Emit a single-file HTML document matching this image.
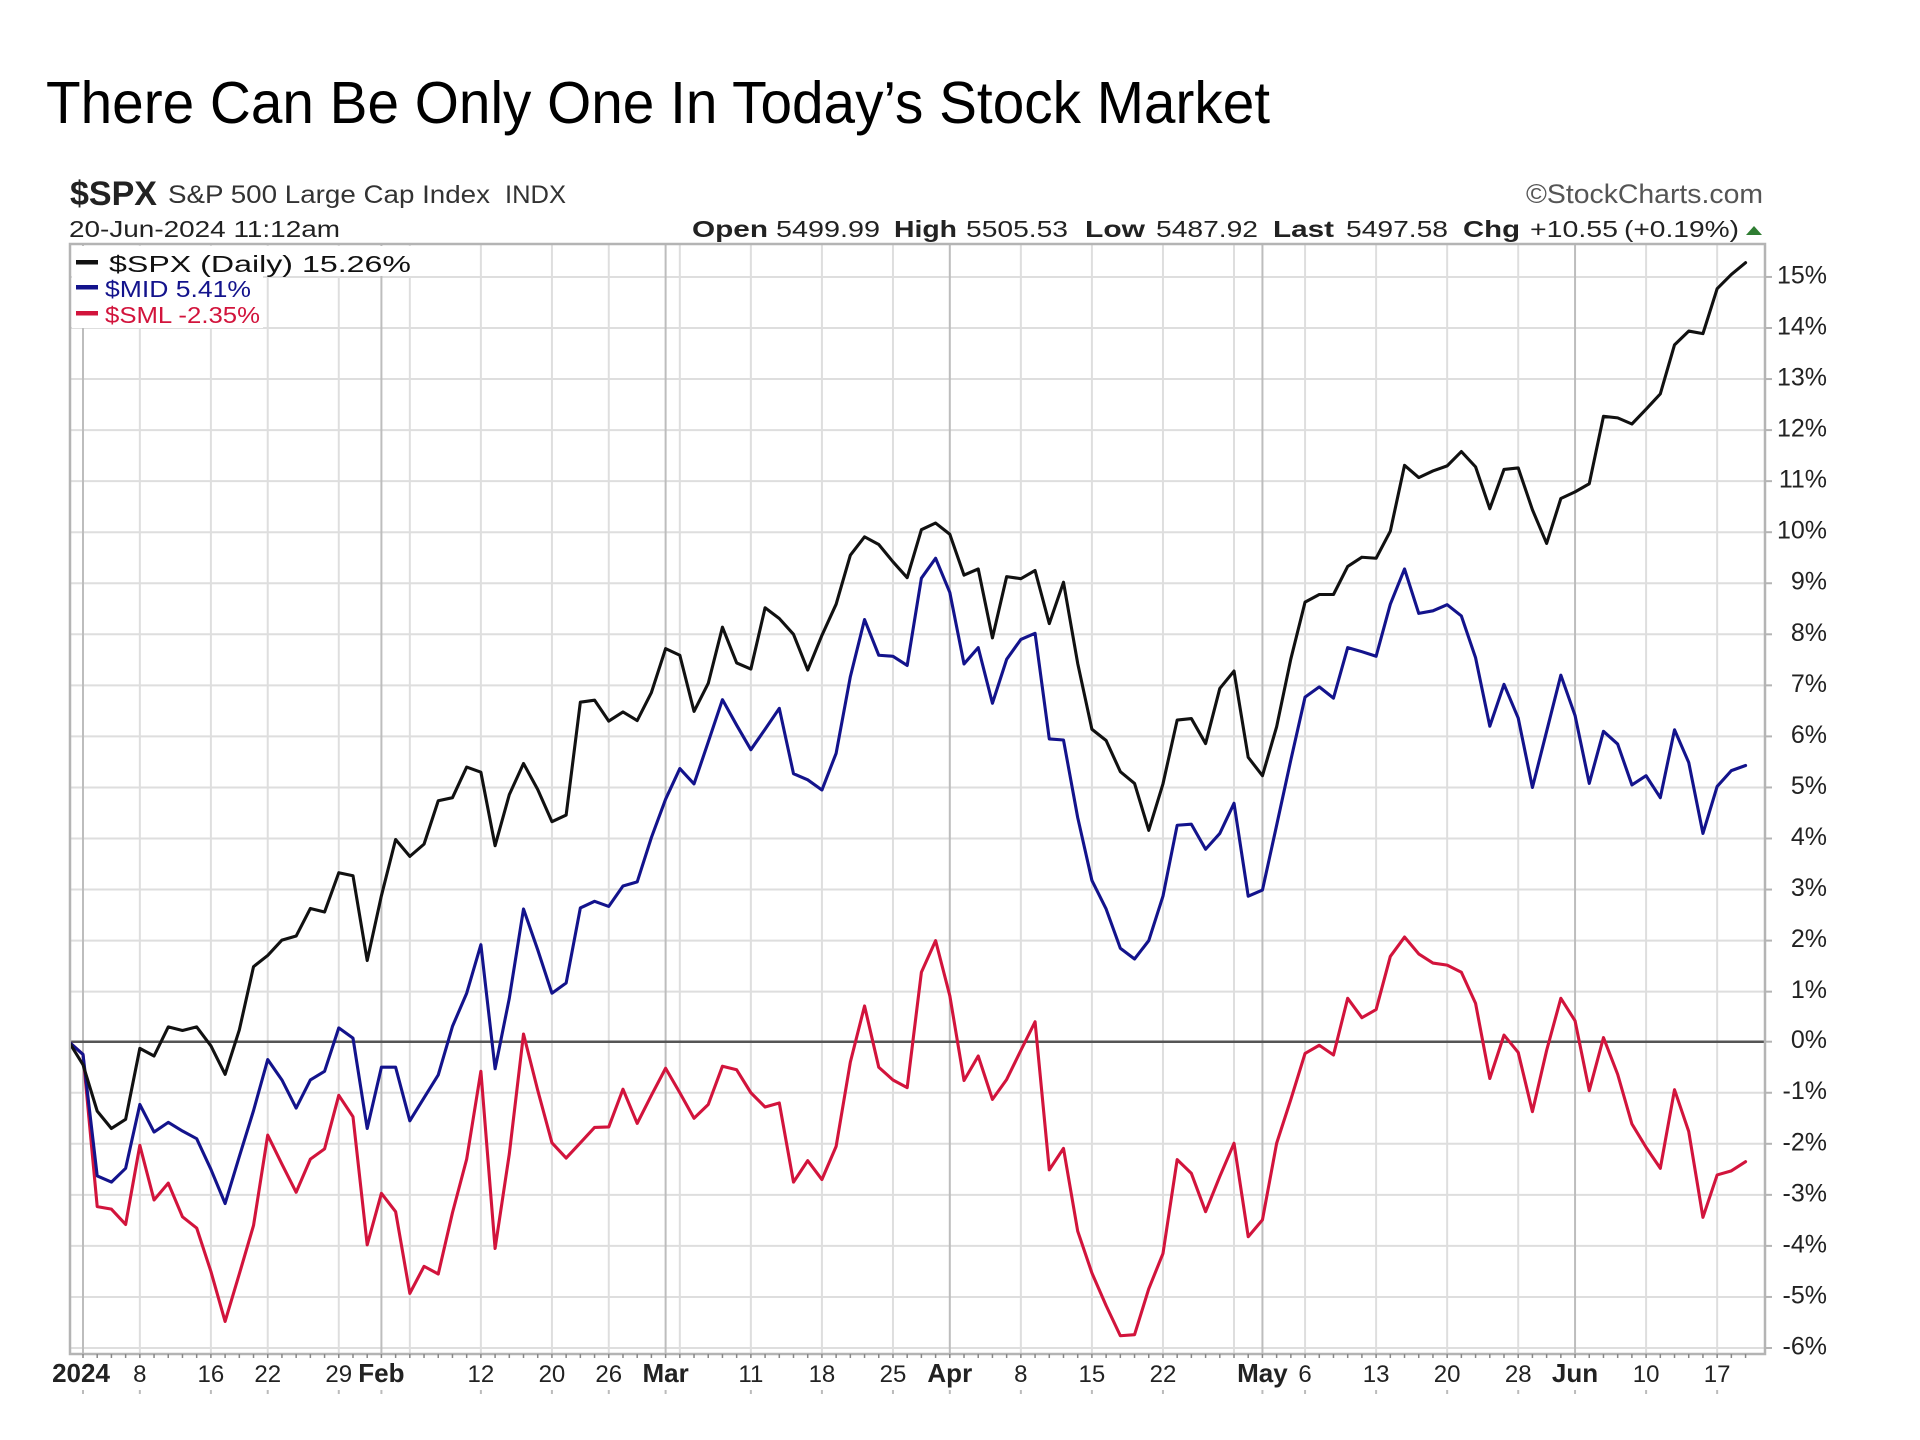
<!DOCTYPE html>
<html>
<head>
<meta charset="utf-8">
<style>
  html, body { margin: 0; padding: 0; background: #ffffff; }
  body { width: 1920px; height: 1440px; overflow: hidden; }
  svg { display: block; }
  text { font-family: "Liberation Sans", Arial, sans-serif; }
</style>
</head>
<body>
<svg width="1920" height="1440" viewBox="0 0 1920 1440" xmlns="http://www.w3.org/2000/svg">
  <rect x="0" y="0" width="1920" height="1440" fill="#ffffff"/>

  <!-- Title -->
  <text x="46" y="123" font-size="59" fill="#000" textLength="1224" lengthAdjust="spacingAndGlyphs">There Can Be Only One In Today’s Stock Market</text>

  <!-- Chart header -->
  <text x="70" y="205" font-size="34" font-weight="bold" fill="#222" textLength="87" lengthAdjust="spacingAndGlyphs">$SPX</text>
  <text x="168" y="203" font-size="25" fill="#333" textLength="322" lengthAdjust="spacingAndGlyphs">S&amp;P 500 Large Cap Index</text>
  <text x="505" y="203" font-size="25" fill="#333" textLength="61" lengthAdjust="spacingAndGlyphs">INDX</text>
  <text x="69" y="237" font-size="23" fill="#222" textLength="271" lengthAdjust="spacingAndGlyphs">20-Jun-2024 11:12am</text>

  <text x="1526" y="203" font-size="27" fill="#555" textLength="237" lengthAdjust="spacingAndGlyphs">©StockCharts.com</text>

  <!-- OHLC line -->
  <g font-size="23" fill="#222">
    <text x="692" y="237" font-weight="bold" textLength="76" lengthAdjust="spacingAndGlyphs">Open</text>
    <text x="776" y="237" textLength="104" lengthAdjust="spacingAndGlyphs">5499.99</text>
    <text x="894" y="237" font-weight="bold" textLength="63" lengthAdjust="spacingAndGlyphs">High</text>
    <text x="966" y="237" textLength="102" lengthAdjust="spacingAndGlyphs">5505.53</text>
    <text x="1085" y="237" font-weight="bold" textLength="60" lengthAdjust="spacingAndGlyphs">Low</text>
    <text x="1156" y="237" textLength="102" lengthAdjust="spacingAndGlyphs">5487.92</text>
    <text x="1273" y="237" font-weight="bold" textLength="61" lengthAdjust="spacingAndGlyphs">Last</text>
    <text x="1346" y="237" textLength="102" lengthAdjust="spacingAndGlyphs">5497.58</text>
    <text x="1463" y="237" font-weight="bold" textLength="57" lengthAdjust="spacingAndGlyphs">Chg</text>
    <text x="1530" y="237" textLength="88" lengthAdjust="spacingAndGlyphs">+10.55</text>
    <text x="1624" y="237" textLength="115" lengthAdjust="spacingAndGlyphs">(+0.19%)</text>
  </g>
  <polygon points="1746,235 1762,235 1754,226" fill="#2f7d32"/>

  <!-- Horizontal grid lines -->
  <g stroke="#dedede" stroke-width="2">
    <line x1="70" y1="276.95" x2="1765" y2="276.95"/>
    <line x1="70" y1="328.00" x2="1765" y2="328.00"/>
    <line x1="70" y1="379.05" x2="1765" y2="379.05"/>
    <line x1="70" y1="430.10" x2="1765" y2="430.10"/>
    <line x1="70" y1="481.15" x2="1765" y2="481.15"/>
    <line x1="70" y1="532.20" x2="1765" y2="532.20"/>
    <line x1="70" y1="583.25" x2="1765" y2="583.25"/>
    <line x1="70" y1="634.30" x2="1765" y2="634.30"/>
    <line x1="70" y1="685.35" x2="1765" y2="685.35"/>
    <line x1="70" y1="736.40" x2="1765" y2="736.40"/>
    <line x1="70" y1="787.45" x2="1765" y2="787.45"/>
    <line x1="70" y1="838.50" x2="1765" y2="838.50"/>
    <line x1="70" y1="889.55" x2="1765" y2="889.55"/>
    <line x1="70" y1="940.60" x2="1765" y2="940.60"/>
    <line x1="70" y1="991.65" x2="1765" y2="991.65"/>
    <line x1="70" y1="1092.75" x2="1765" y2="1092.75"/>
    <line x1="70" y1="1143.80" x2="1765" y2="1143.80"/>
    <line x1="70" y1="1194.85" x2="1765" y2="1194.85"/>
    <line x1="70" y1="1245.90" x2="1765" y2="1245.90"/>
    <line x1="70" y1="1296.95" x2="1765" y2="1296.95"/>
    <line x1="70" y1="1348.00" x2="1765" y2="1348.00"/>
  </g>

  <!-- Vertical grid lines (weekly) -->
  <g stroke="#dedede" stroke-width="2">
    <line x1="139.84" y1="245" x2="139.84" y2="1354"/>
    <line x1="210.89" y1="245" x2="210.89" y2="1354"/>
    <line x1="267.73" y1="245" x2="267.73" y2="1354"/>
    <line x1="338.78" y1="245" x2="338.78" y2="1354"/>
    <line x1="409.83" y1="245" x2="409.83" y2="1354"/>
    <line x1="480.88" y1="245" x2="480.88" y2="1354"/>
    <line x1="551.93" y1="245" x2="551.93" y2="1354"/>
    <line x1="608.77" y1="245" x2="608.77" y2="1354"/>
    <line x1="679.82" y1="245" x2="679.82" y2="1354"/>
    <line x1="750.87" y1="245" x2="750.87" y2="1354"/>
    <line x1="821.92" y1="245" x2="821.92" y2="1354"/>
    <line x1="892.97" y1="245" x2="892.97" y2="1354"/>
    <line x1="1020.86" y1="245" x2="1020.86" y2="1354"/>
    <line x1="1091.91" y1="245" x2="1091.91" y2="1354"/>
    <line x1="1162.96" y1="245" x2="1162.96" y2="1354"/>
    <line x1="1234.01" y1="245" x2="1234.01" y2="1354"/>
    <line x1="1305.06" y1="245" x2="1305.06" y2="1354"/>
    <line x1="1376.11" y1="245" x2="1376.11" y2="1354"/>
    <line x1="1447.16" y1="245" x2="1447.16" y2="1354"/>
    <line x1="1518.21" y1="245" x2="1518.21" y2="1354"/>
    <line x1="1646.10" y1="245" x2="1646.10" y2="1354"/>
    <line x1="1717.15" y1="245" x2="1717.15" y2="1354"/>
  </g>
  <!-- Month lines -->
  <g stroke="#bdbdbd" stroke-width="2">
    <line x1="83" y1="245" x2="83" y2="1354"/>
    <line x1="381.41" y1="245" x2="381.41" y2="1354"/>
    <line x1="665.61" y1="245" x2="665.61" y2="1354"/>
    <line x1="949.81" y1="245" x2="949.81" y2="1354"/>
    <line x1="1262.43" y1="245" x2="1262.43" y2="1354"/>
    <line x1="1575.05" y1="245" x2="1575.05" y2="1354"/>
  </g>

  <!-- Zero line -->
  <line x1="70" y1="1041.7" x2="1765" y2="1041.7" stroke="#555" stroke-width="2.5"/>

  <!-- Plot border -->
  <rect x="70" y="244" width="1695" height="1110" fill="none" stroke="#b4b4b4" stroke-width="2.5"/>

  <!-- Daily ticks at bottom -->
  <line x1="82.25" y1="1356" x2="1750" y2="1356" stroke="#888" stroke-width="4" stroke-dasharray="1.5 12.71"/>
  <!-- Right-side y ticks -->
  <g stroke="#b4b4b4" stroke-width="2">
    <line x1="1765" y1="276.95" x2="1772" y2="276.95"/>
    <line x1="1765" y1="328.00" x2="1772" y2="328.00"/>
    <line x1="1765" y1="379.05" x2="1772" y2="379.05"/>
    <line x1="1765" y1="430.10" x2="1772" y2="430.10"/>
    <line x1="1765" y1="481.15" x2="1772" y2="481.15"/>
    <line x1="1765" y1="532.20" x2="1772" y2="532.20"/>
    <line x1="1765" y1="583.25" x2="1772" y2="583.25"/>
    <line x1="1765" y1="634.30" x2="1772" y2="634.30"/>
    <line x1="1765" y1="685.35" x2="1772" y2="685.35"/>
    <line x1="1765" y1="736.40" x2="1772" y2="736.40"/>
    <line x1="1765" y1="787.45" x2="1772" y2="787.45"/>
    <line x1="1765" y1="838.50" x2="1772" y2="838.50"/>
    <line x1="1765" y1="889.55" x2="1772" y2="889.55"/>
    <line x1="1765" y1="940.60" x2="1772" y2="940.60"/>
    <line x1="1765" y1="991.65" x2="1772" y2="991.65"/>
    <line x1="1765" y1="1041.70" x2="1772" y2="1041.70"/>
    <line x1="1765" y1="1092.75" x2="1772" y2="1092.75"/>
    <line x1="1765" y1="1143.80" x2="1772" y2="1143.80"/>
    <line x1="1765" y1="1194.85" x2="1772" y2="1194.85"/>
    <line x1="1765" y1="1245.90" x2="1772" y2="1245.90"/>
    <line x1="1765" y1="1296.95" x2="1772" y2="1296.95"/>
    <line x1="1765" y1="1348.00" x2="1772" y2="1348.00"/>
  </g>

  <!-- Series -->
  <defs>
    <clipPath id="plotclip">
      <rect x="71" y="245" width="1693" height="1108"/>
    </clipPath>
  </defs>
  <g clip-path="url(#plotclip)">
    <g transform="matrix(14.21 0 0 -51.05 83 1041.7)" fill="none" stroke-linejoin="round" stroke-linecap="round">
      <polyline vector-effect="non-scaling-stroke" stroke="#d2143c" stroke-width="3.1" points="-1,0 0,-0.25 1,-3.23 2,-3.28 3,-3.58 4,-2.03 5,-3.1 6,-2.77 7,-3.43 8,-3.65 9,-4.5 10,-5.48 11,-4.55 12,-3.6 13,-1.83 14,-2.4 15,-2.95 16,-2.3 17,-2.1 18,-1.05 19,-1.47 20,-3.98 21,-2.97 22,-3.33 23,-4.93 24,-4.4 25,-4.55 26,-3.35 27,-2.3 28,-0.58 29,-4.05 30,-2.2 31,0.15 32,-0.95 33,-1.98 34,-2.28 35,-1.98 36,-1.68 37,-1.67 38,-0.93 39,-1.6 40,-1.05 41,-0.52 42,-1.0 43,-1.5 44,-1.23 45,-0.48 46,-0.55 47,-1.0 48,-1.28 49,-1.2 50,-2.75 51,-2.33 52,-2.7 53,-2.05 54,-0.4 55,0.7 56,-0.5 57,-0.75 58,-0.9 59,1.36 60,1.98 61,0.9 62,-0.76 63,-0.28 64,-1.13 65,-0.74 66,-0.17 67,0.39 68,-2.51 69,-2.09 70,-3.71 71,-4.53 72,-5.17 73,-5.76 74,-5.74 75,-4.84 76,-4.15 77,-2.31 78,-2.58 79,-3.33 80,-2.64 81,-1.99 82,-3.82 83,-3.49 84,-1.99 85,-1.13 86,-0.23 87,-0.07 88,-0.26 89,0.85 90,0.47 91,0.63 92,1.67 93,2.05 94,1.72 95,1.54 96,1.5 97,1.36 98,0.75 99,-0.72 100,0.13 101,-0.21 102,-1.37 103,-0.17 104,0.85 105,0.41 106,-0.96 107,0.08 108,-0.64 109,-1.61 110,-2.07 111,-2.48 112,-0.94 113,-1.76 114,-3.44 115,-2.61 116,-2.53 117,-2.35"/>
      <polyline vector-effect="non-scaling-stroke" stroke="#13138c" stroke-width="3.1" points="-1,0 0,-0.25 1,-2.63 2,-2.75 3,-2.48 4,-1.23 5,-1.77 6,-1.58 7,-1.75 8,-1.9 9,-2.5 10,-3.17 11,-2.25 12,-1.35 13,-0.35 14,-0.75 15,-1.3 16,-0.75 17,-0.58 18,0.27 19,0.07 20,-1.7 21,-0.5 22,-0.5 23,-1.55 24,-1.1 25,-0.65 26,0.3 27,0.95 28,1.9 29,-0.53 30,0.85 31,2.6 32,1.8 33,0.95 34,1.15 35,2.62 36,2.75 37,2.65 38,3.05 39,3.13 40,4.0 41,4.75 42,5.35 43,5.05 44,5.87 45,6.7 46,6.2 47,5.72 48,6.12 49,6.53 50,5.25 51,5.13 52,4.93 53,5.65 54,7.15 55,8.27 56,7.57 57,7.55 58,7.37 59,9.08 60,9.47 61,8.8 62,7.4 63,7.72 64,6.63 65,7.49 66,7.88 67,8.0 68,5.93 69,5.91 70,4.39 71,3.16 72,2.6 73,1.83 74,1.62 75,1.98 76,2.85 77,4.24 78,4.26 79,3.77 80,4.08 81,4.67 82,2.85 83,2.97 84,4.24 85,5.52 86,6.75 87,6.95 88,6.73 89,7.72 90,7.64 91,7.55 92,8.57 93,9.26 94,8.39 95,8.44 96,8.56 97,8.34 98,7.52 99,6.18 100,7.0 101,6.34 102,4.98 103,6.08 104,7.18 105,6.39 106,5.06 107,6.08 108,5.83 109,5.03 110,5.21 111,4.78 112,6.11 113,5.47 114,4.08 115,5.0 116,5.31 117,5.41"/>
      <polyline vector-effect="non-scaling-stroke" stroke="#111111" stroke-width="3.1" points="-1,0 0,-0.45 1,-1.36 2,-1.70 3,-1.52 4,-0.13 5,-0.28 6,0.29 7,0.22 8,0.29 9,-0.08 10,-0.64 11,0.23 12,1.47 13,1.69 14,1.99 15,2.07 16,2.61 17,2.54 18,3.31 19,3.25 20,1.59 21,2.86 22,3.96 23,3.63 24,3.87 25,4.72 26,4.78 27,5.38 28,5.28 29,3.84 30,4.84 31,5.45 32,4.94 33,4.31 34,4.44 35,6.65 36,6.69 37,6.28 38,6.46 39,6.29 40,6.84 41,7.70 42,7.57 43,6.47 44,7.02 45,8.12 46,7.42 47,7.30 48,8.50 49,8.29 50,7.98 51,7.28 52,7.96 53,8.57 54,9.53 55,9.89 56,9.74 57,9.40 58,9.09 59,10.03 60,10.16 61,9.94 62,9.14 63,9.26 64,7.91 65,9.11 66,9.07 67,9.23 68,8.19 69,9.00 70,7.41 71,6.12 72,5.90 73,5.29 74,5.06 75,4.14 76,5.05 77,6.30 78,6.33 79,5.84 80,6.92 81,7.26 82,5.57 83,5.21 84,6.17 85,7.50 86,8.61 87,8.76 88,8.76 89,9.31 90,9.49 91,9.47 92,10.00 93,11.29 94,11.05 95,11.18 96,11.28 97,11.56 98,11.26 99,10.44 100,11.21 101,11.24 102,10.42 103,9.76 104,10.64 105,10.77 106,10.93 107,12.25 108,12.22 109,12.10 110,12.39 111,12.69 112,13.65 113,13.92 114,13.87 115,14.75 116,15.03 117,15.26"/>
    </g>
  </g>

  <!-- Legend -->
  <rect x="72" y="246" width="342" height="30" fill="#ffffff"/>
  <rect x="72" y="276" width="191" height="52" fill="#ffffff"/>
  <rect x="76" y="260" width="22" height="4.5" fill="#111"/>
  <text x="109" y="272" font-size="23" fill="#111" textLength="302" lengthAdjust="spacingAndGlyphs">$SPX (Daily) 15.26%</text>
  <rect x="76" y="285" width="22" height="4.5" fill="#13138c"/>
  <text x="105" y="297" font-size="23" fill="#13138c" textLength="146" lengthAdjust="spacingAndGlyphs">$MID 5.41%</text>
  <rect x="76" y="311" width="22" height="4.5" fill="#d2143c"/>
  <text x="105" y="323" font-size="23" fill="#d2143c" textLength="155" lengthAdjust="spacingAndGlyphs">$SML -2.35%</text>

  <!-- Y axis labels -->
  <g font-size="25" fill="#222" text-anchor="end">
    <text x="1827" y="283.5">15%</text>
    <text x="1827" y="334.5">14%</text>
    <text x="1827" y="385.5">13%</text>
    <text x="1827" y="436.6">12%</text>
    <text x="1827" y="487.6">11%</text>
    <text x="1827" y="538.7">10%</text>
    <text x="1827" y="589.7">9%</text>
    <text x="1827" y="640.8">8%</text>
    <text x="1827" y="691.8">7%</text>
    <text x="1827" y="742.9">6%</text>
    <text x="1827" y="793.9">5%</text>
    <text x="1827" y="845.0">4%</text>
    <text x="1827" y="896.0">3%</text>
    <text x="1827" y="947.1">2%</text>
    <text x="1827" y="998.1">1%</text>
    <text x="1827" y="1048.2">0%</text>
    <text x="1827" y="1099.2">-1%</text>
    <text x="1827" y="1150.3">-2%</text>
    <text x="1827" y="1201.3">-3%</text>
    <text x="1827" y="1252.4">-4%</text>
    <text x="1827" y="1303.4">-5%</text>
    <text x="1827" y="1354.5">-6%</text>
  </g>

  <!-- X axis labels -->
  <g font-size="24" fill="#222" text-anchor="middle">
    <text x="81" y="1382" font-weight="bold" font-size="26">2024</text>
    <text x="139.84" y="1382">8</text>
    <text x="210.89" y="1382">16</text>
    <text x="267.73" y="1382">22</text>
    <text x="338.78" y="1382">29</text>
    <text x="381.41" y="1382" font-weight="bold" font-size="26">Feb</text>
    <text x="480.88" y="1382">12</text>
    <text x="551.93" y="1382">20</text>
    <text x="608.77" y="1382">26</text>
    <text x="665.61" y="1382" font-weight="bold" font-size="26">Mar</text>
    <text x="750.87" y="1382">11</text>
    <text x="821.92" y="1382">18</text>
    <text x="892.97" y="1382">25</text>
    <text x="949.81" y="1382" font-weight="bold" font-size="26">Apr</text>
    <text x="1020.86" y="1382">8</text>
    <text x="1091.91" y="1382">15</text>
    <text x="1162.96" y="1382">22</text>
    <text x="1262.43" y="1382" font-weight="bold" font-size="26">May</text>
    <text x="1305.06" y="1382">6</text>
    <text x="1376.11" y="1382">13</text>
    <text x="1447.16" y="1382">20</text>
    <text x="1518.21" y="1382">28</text>
    <text x="1575.05" y="1382" font-weight="bold" font-size="26">Jun</text>
    <text x="1646.10" y="1382">10</text>
    <text x="1717.15" y="1382">17</text>
  </g>

  <!-- small marks below labels -->
  <g stroke="#bbb" stroke-width="2">
    <line x1="83" y1="1390" x2="83" y2="1394"/>
    <line x1="139.84" y1="1390" x2="139.84" y2="1394"/>
    <line x1="210.89" y1="1390" x2="210.89" y2="1394"/>
    <line x1="267.73" y1="1390" x2="267.73" y2="1394"/>
    <line x1="338.78" y1="1390" x2="338.78" y2="1394"/>
    <line x1="381.41" y1="1390" x2="381.41" y2="1394"/>
    <line x1="480.88" y1="1390" x2="480.88" y2="1394"/>
    <line x1="551.93" y1="1390" x2="551.93" y2="1394"/>
    <line x1="608.77" y1="1390" x2="608.77" y2="1394"/>
    <line x1="665.61" y1="1390" x2="665.61" y2="1394"/>
    <line x1="750.87" y1="1390" x2="750.87" y2="1394"/>
    <line x1="821.92" y1="1390" x2="821.92" y2="1394"/>
    <line x1="892.97" y1="1390" x2="892.97" y2="1394"/>
    <line x1="949.81" y1="1390" x2="949.81" y2="1394"/>
    <line x1="1020.86" y1="1390" x2="1020.86" y2="1394"/>
    <line x1="1091.91" y1="1390" x2="1091.91" y2="1394"/>
    <line x1="1162.96" y1="1390" x2="1162.96" y2="1394"/>
    <line x1="1262.43" y1="1390" x2="1262.43" y2="1394"/>
    <line x1="1305.06" y1="1390" x2="1305.06" y2="1394"/>
    <line x1="1376.11" y1="1390" x2="1376.11" y2="1394"/>
    <line x1="1447.16" y1="1390" x2="1447.16" y2="1394"/>
    <line x1="1518.21" y1="1390" x2="1518.21" y2="1394"/>
    <line x1="1575.05" y1="1390" x2="1575.05" y2="1394"/>
    <line x1="1646.10" y1="1390" x2="1646.10" y2="1394"/>
    <line x1="1717.15" y1="1390" x2="1717.15" y2="1394"/>
  </g>
</svg>
</body>
</html>
